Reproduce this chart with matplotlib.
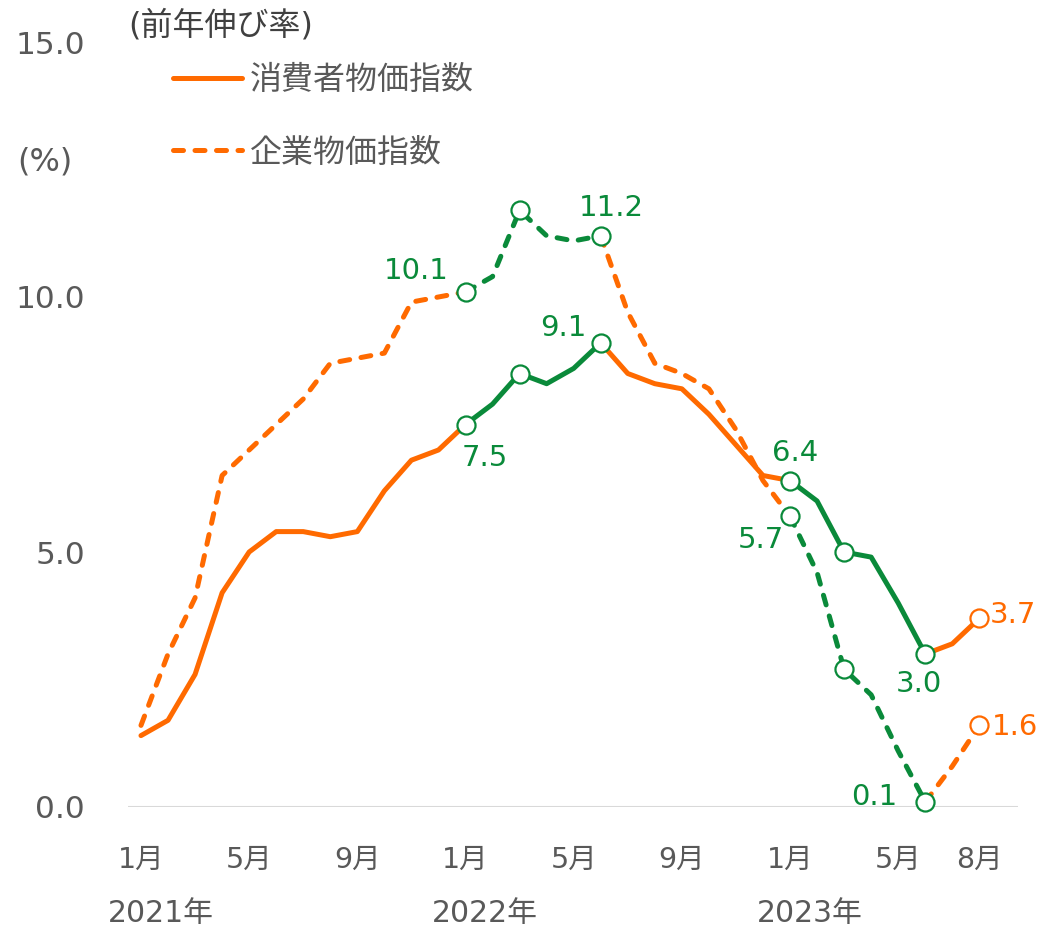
import matplotlib
matplotlib.use("Agg")
import matplotlib.pyplot as plt
from matplotlib.lines import Line2D

# Verdana-like digits, CJK glyphs fall back to Noto
plt.rcParams["font.family"] = ["DejaVu Sans", "Noto Sans CJK JP"]

ORANGE = "#FF6A00"
GREEN = "#0A8A3A"
GRAY = "#595959"

# monthly, Jan 2021 .. Aug 2023 (index 0..31)
months = list(range(32))
cpi = [1.4, 1.7, 2.6, 4.2, 5.0, 5.4, 5.4, 5.3, 5.4, 6.2, 6.8, 7.0,
       7.5, 7.9, 8.5, 8.3, 8.6, 9.1, 8.5, 8.3, 8.2, 7.7, 7.1, 6.5,
       6.4, 6.0, 5.0, 4.9, 4.0, 3.0, 3.2, 3.7]
cgpi = [1.6, 3.0, 4.1, 6.5, 7.0, 7.5, 8.0, 8.7, 8.8, 8.9, 9.9, 10.0,
        10.1, 10.4, 11.7, 11.2, 11.1, 11.2, 9.7, 8.7, 8.5, 8.2, 7.4, 6.4,
        5.7, 4.6, 2.7, 2.2, 1.1, 0.1, 0.8, 1.6]
green_spans = [(12, 17), (24, 29)]
marker_idx = [12, 14, 17, 24, 26, 29]
last_idx = 31

tick_pos = [0, 4, 8, 12, 16, 20, 24, 28, 31]
tick_lab = ["1月", "5月", "9月", "1月", "5月", "9月", "1月", "5月", "8月"]
years = ["2021年", "2022年", "2023年"]
year_pos = [0, 12, 24]

# value labels: (series, index, text, colour, dx px, dy px, ha)
labels = [
    ("cgpi", 12, "10.1", GREEN, -17, 21, "right"),
    ("cgpi", 17, "11.2", GREEN, 11, 28, "center"),
    ("cpi", 17, "9.1", GREEN, -14, 15, "right"),
    ("cpi", 12, "7.5", GREEN, 19, -34, "center"),
    ("cpi", 24, "6.4", GREEN, 5, 28, "center"),
    ("cgpi", 24, "5.7", GREEN, -6, -24, "right"),
    ("cpi", 29, "3.0", GREEN, -6, -30, "center"),
    ("cgpi", 29, "0.1", GREEN, -28, 5, "right"),
    ("cpi", 31, "3.7", ORANGE, 10, 3, "left"),
    ("cgpi", 31, "1.6", ORANGE, 12, -2, "left"),
]

fig = plt.figure(figsize=(10.4, 9.32), dpi=100)
ax = fig.add_axes([128 / 1040, 1 - 807 / 932, 890 / 1040, 765 / 932])

LW = 3.6
DASH = (2.0, 2.3)


def draw(series, ls):
    cuts = [0]
    for a, b in green_spans:
        cuts += [a, b]
    cuts.append(len(series) - 1)
    for k in range(len(cuts) - 1):
        a, b = cuts[k], cuts[k + 1]
        col = GREEN if k % 2 == 1 else ORANGE
        kw = dict(color=col, lw=LW, solid_capstyle="round", solid_joinstyle="round",
                  clip_on=False, zorder=3)
        if ls == "dash":
            kw.update(dashes=DASH, dash_capstyle="round")
        ax.plot(months[a:b + 1], series[a:b + 1], **kw)
    ax.plot([months[i] for i in marker_idx], [series[i] for i in marker_idx], ls="none",
            marker="o", ms=13, mfc="white", mec=GREEN, mew=1.6, clip_on=False, zorder=4)
    ax.plot([months[last_idx]], [series[last_idx]], ls="none", marker="o", ms=13,
            mfc="white", mec=ORANGE, mew=1.6, clip_on=False, zorder=4)


draw(cgpi, "dash")
draw(cpi, "solid")

data = {"cpi": cpi, "cgpi": cgpi}
for s, i, txt, col, dx, dy, ha in labels:
    ax.annotate(txt, (months[i], data[s][i]), xytext=(dx, dy), textcoords="offset pixels",
                ha=ha, va="center", color=col, fontsize=21, zorder=5)

ax.axhline(0, color="#D9D9D9", lw=1.5, zorder=1)
ax.set_xlim(-0.48, 32.43)
ax.set_ylim(0, 15)
ax.set_yticks([0, 5, 10, 15])
ax.set_yticklabels(["0.0", "5.0", "10.0", "15.0"])
ax.set_xticks(tick_pos)
ax.set_xticklabels(tick_lab)
ax.tick_params(axis="y", length=0, pad=31, labelsize=22.5, labelcolor=GRAY)
ax.tick_params(axis="x", length=0, pad=28, labelsize=20.5, labelcolor=GRAY)
for s in ax.spines.values():
    s.set_visible(False)

for y, p in zip(years, year_pos):
    ax.text(p + 0.72, -0.1386, y, transform=ax.get_xaxis_transform(), ha="center",
            va="center", fontsize=21.5, color=GRAY)

fig.text(17 / 1040, 1 - 162 / 932, "(%)", ha="left", va="center", fontsize=23, color=GRAY)
fig.text(128 / 1040, 1 - 26 / 932, "(前年伸び率)", ha="left", va="center", fontsize=23,
         color="#404040")

handles = [Line2D([], [], color=ORANGE, lw=LW, solid_capstyle="round"),
           Line2D([], [], color=ORANGE, lw=LW, dashes=DASH, dash_capstyle="round")]
fig.legend(handles, ["消費者物価指数", "企業物価指数"], loc="upper left",
           bbox_to_anchor=(173 / 1040, 1 - 65 / 932), frameon=False, fontsize=23,
           labelcolor=GRAY, handlelength=2.15, handletextpad=0.25, labelspacing=1.3,
           borderpad=0, borderaxespad=0)

fig.savefig("out.png", dpi=100)
